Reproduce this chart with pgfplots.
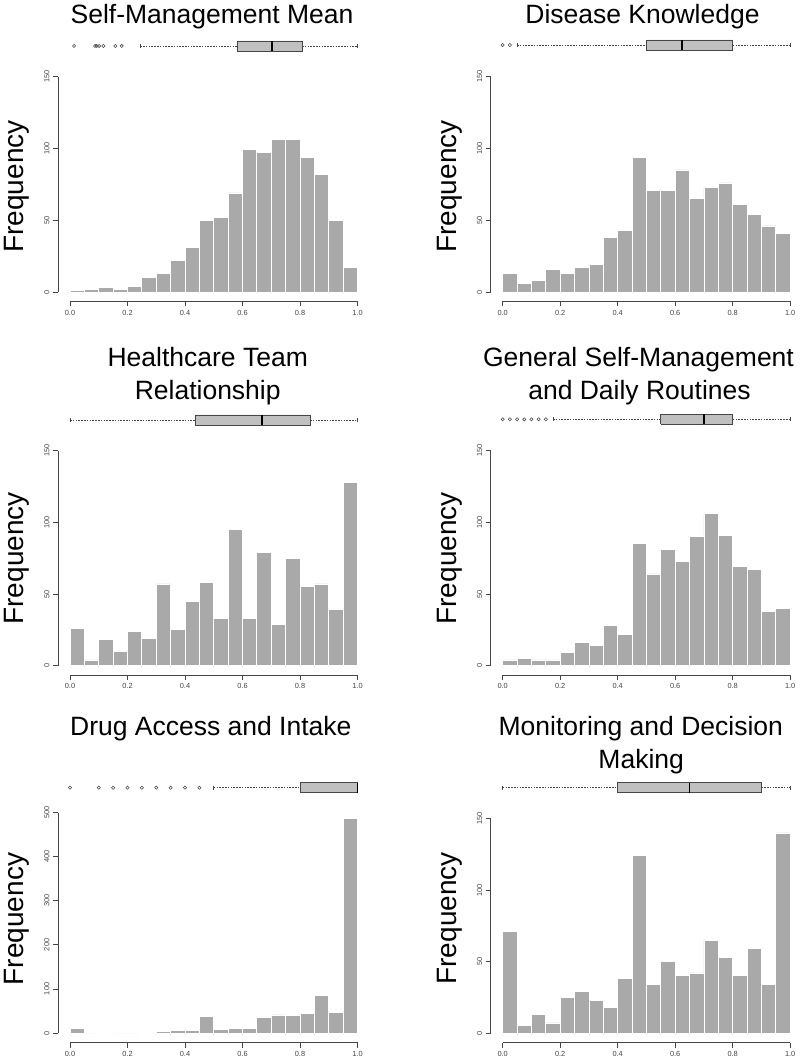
\documentclass[border=0pt]{standalone}
\usepackage{fontspec}
\setmainfont{Liberation Sans}
\usepackage{pgfplots}
\pgfplotsset{compat=1.18}
\definecolor{histgray}{RGB}{169,169,169}
\definecolor{boxgray}{RGB}{192,192,192}
\definecolor{axgray}{RGB}{70,70,70}
\pgfplotsset{
  histax/.style={
    scale only axis, width=287.5pt, xmin=0, xmax=1, ymin=0,
    axis lines*=left, axis line style={-, draw=axgray, line width=0.8pt},
    axis x line shift=9.5pt, axis y line shift=12pt,
    tick align=outside, major tick length=5pt,
    tick style={axgray, line width=0.8pt},
    xtick={0,0.2,0.4,0.6,0.8,1},
    xticklabel style={font=\fontsize{7.4}{8}\selectfont, text=axgray, /pgf/number format/.cd, fixed, fixed zerofill, precision=1},
    yticklabel style={font=\fontsize{7.4}{8}\selectfont, text=axgray, rotate=90, anchor=south},
    /pgf/number format/assume math mode=true,
    clip=false, anchor=south west,
  },
  boxax/.style={scale only axis, width=287.5pt, height=20pt, xmin=0, xmax=1, ymin=-1, ymax=1, hide axis, clip=false, anchor=west},
  hbar/.style={ybar interval, fill=histgray, draw=white, line width=0.8pt},
  whisk/.style={axgray, line width=0.7pt, dash pattern=on 1.6pt off 1.2pt},
  capst/.style={axgray, line width=0.7pt},
  boxs/.style={fill=boxgray, draw=axgray, line width=0.8pt},
  med/.style={black, line width=1.8pt},
  outl/.style={only marks, mark=o, mark size=1.6pt, mark options={axgray, line width=0.55pt}},
}
\newcommand{\ttl}{\fontsize{26.5}{30}\selectfont}
\newcommand{\frq}{\fontsize{28}{30}\selectfont}
\begin{document}
\begin{tikzpicture}
\useasboundingbox (0pt,0pt) rectangle (800pt,1062pt);
\fill[white] (0pt,0pt) rectangle (800pt,1062pt);

% ---------------- Panel 1 ----------------
\node[font=\ttl, anchor=base] at (212pt,1038.7pt) {Self-Management Mean};
\node[font=\frq, rotate=90, anchor=base] at (24pt,875.5pt) {Frequency};
\begin{axis}[boxax, at={(70pt,1016pt)}]
\addplot[whisk] coordinates {(0.244,0) (0.582,0)};
\addplot[whisk] coordinates {(0.807,0) (1,0)};
\addplot[capst] coordinates {(0.244,-0.2) (0.244,0.2)};
\addplot[capst] coordinates {(1,-0.2) (1,0.2)};
\addplot[boxs] coordinates {(0.582,-0.5) (0.807,-0.5) (0.807,0.5) (0.582,0.5) (0.582,-0.5)};
\addplot[med] coordinates {(0.702,-0.5) (0.702,0.5)};
\addplot[outl] coordinates {(0.014,0) (0.087,0) (0.093,0) (0.101,0) (0.116,0) (0.158,0) (0.18,0)};
\end{axis}
\begin{axis}[histax, at={(70pt,770pt)}, height=215.3pt, ymax=150, ytick={0,50,100,150}]
\addplot[hbar] coordinates {(0,1) (0.05,2) (0.1,3) (0.15,2) (0.2,4) (0.25,10) (0.3,13) (0.35,22) (0.4,31) (0.45,50) (0.5,52) (0.55,69) (0.6,99) (0.65,97) (0.7,106) (0.75,106) (0.8,94) (0.85,82) (0.9,50) (0.95,17) (1,17)};
\end{axis}

% ---------------- Panel 2 ----------------
\node[font=\ttl, anchor=base] at (642.5pt,1038.7pt) {Disease Knowledge};
\node[font=\frq, rotate=90, anchor=base] at (456pt,875.5pt) {Frequency};
\begin{axis}[boxax, at={(502.7pt,1017pt)}]
\addplot[whisk] coordinates {(0.05,0) (0.5,0)};
\addplot[whisk] coordinates {(0.8,0) (1,0)};
\addplot[capst] coordinates {(0.05,-0.2) (0.05,0.2)};
\addplot[capst] coordinates {(1,-0.2) (1,0.2)};
\addplot[boxs] coordinates {(0.5,-0.5) (0.8,-0.5) (0.8,0.5) (0.5,0.5) (0.5,-0.5)};
\addplot[med] coordinates {(0.625,-0.5) (0.625,0.5)};
\addplot[outl] coordinates {(0,0) (0.025,0)};
\end{axis}
\begin{axis}[histax, at={(502.7pt,770pt)}, height=215.3pt, ymax=150, ytick={0,50,100,150}]
\addplot[hbar] coordinates {(0,13) (0.05,6) (0.1,8) (0.15,16) (0.2,13) (0.25,17) (0.3,19) (0.35,38) (0.4,43) (0.45,94) (0.5,71) (0.55,71) (0.6,85) (0.65,65) (0.7,73) (0.75,76) (0.8,61) (0.85,54) (0.9,46) (0.95,41) (1,41)};
\end{axis}

% ---------------- Panel 3 ----------------
\node[font=\ttl, anchor=base] at (207.7pt,695.3pt) {Healthcare Team};
\node[font=\ttl, anchor=base] at (207.7pt,662.7pt) {Relationship};
\node[font=\frq, rotate=90, anchor=base] at (24pt,503.7pt) {Frequency};
\begin{axis}[boxax, at={(70pt,642pt)}]
\addplot[whisk] coordinates {(0,0) (0.435,0)};
\addplot[whisk] coordinates {(0.835,0) (1,0)};
\addplot[capst] coordinates {(0,-0.2) (0,0.2)};
\addplot[capst] coordinates {(1,-0.2) (1,0.2)};
\addplot[boxs] coordinates {(0.435,-0.5) (0.835,-0.5) (0.835,0.5) (0.435,0.5) (0.435,-0.5)};
\addplot[med] coordinates {(0.668,-0.5) (0.668,0.5)};
\end{axis}
\begin{axis}[histax, at={(70pt,396.3pt)}, height=215pt, ymax=150, ytick={0,50,100,150}]
\addplot[hbar] coordinates {(0,26) (0.05,4) (0.1,18) (0.15,10) (0.2,24) (0.25,19) (0.3,57) (0.35,25) (0.4,45) (0.45,58) (0.5,33) (0.55,95) (0.6,33) (0.65,79) (0.7,29) (0.75,75) (0.8,55) (0.85,57) (0.9,39) (0.95,128) (1,128)};
\end{axis}

% ---------------- Panel 4 ----------------
\node[font=\ttl, anchor=base] at (638.5pt,695.3pt) {General Self-Management};
\node[font=\ttl, anchor=base] at (639.5pt,662.7pt) {and Daily Routines};
\node[font=\frq, rotate=90, anchor=base] at (456pt,503.7pt) {Frequency};
\begin{axis}[boxax, at={(502.7pt,642.7pt)}]
\addplot[whisk] coordinates {(0.175,0) (0.55,0)};
\addplot[whisk] coordinates {(0.8,0) (1,0)};
\addplot[capst] coordinates {(0.175,-0.2) (0.175,0.2)};
\addplot[capst] coordinates {(1,-0.2) (1,0.2)};
\addplot[boxs] coordinates {(0.55,-0.5) (0.8,-0.5) (0.8,0.5) (0.55,0.5) (0.55,-0.5)};
\addplot[med] coordinates {(0.70,-0.5) (0.70,0.5)};
\addplot[outl] coordinates {(0,0) (0.025,0) (0.05,0) (0.075,0) (0.1,0) (0.125,0) (0.15,0)};
\end{axis}
\begin{axis}[histax, at={(502.7pt,396.3pt)}, height=215pt, ymax=150, ytick={0,50,100,150}]
\addplot[hbar] coordinates {(0,4) (0.05,5) (0.1,4) (0.15,4) (0.2,9) (0.25,16) (0.3,14) (0.35,28) (0.4,22) (0.45,85) (0.5,64) (0.55,81) (0.6,73) (0.65,90) (0.7,106) (0.75,91) (0.8,69) (0.85,67) (0.9,38) (0.95,40) (1,40)};
\end{axis}

% ---------------- Panel 5 ----------------
\node[font=\ttl, anchor=base] at (210.8pt,326pt) {Drug Access and Intake};
\node[font=\frq, rotate=90, anchor=base] at (24pt,143pt) {Frequency};
\begin{axis}[boxax, at={(70pt,274.3pt)}]
\addplot[whisk] coordinates {(0.5,0) (0.8,0)};
\addplot[capst] coordinates {(0.5,-0.2) (0.5,0.2)};
\addplot[boxs] coordinates {(0.8,-0.5) (1,-0.5) (1,0.5) (0.8,0.5) (0.8,-0.5)};
\addplot[med] coordinates {(1,-0.5) (1,0.5)};
\addplot[outl] coordinates {(0,0) (0.1,0) (0.15,0) (0.2,0) (0.25,0) (0.3,0) (0.35,0) (0.4,0) (0.45,0)};
\end{axis}
\begin{axis}[histax, at={(70pt,29pt)}, height=220.3pt, ymax=500, ytick={0,100,200,300,400,500}]
\addplot[hbar] coordinates {(0,10) (0.05,0) (0.1,1) (0.15,0) (0.2,0) (0.25,2) (0.3,4) (0.35,6) (0.4,6) (0.45,38) (0.5,9) (0.55,11) (0.6,10) (0.65,35) (0.7,41) (0.75,39) (0.8,44) (0.85,86) (0.9,47) (0.95,486) (1,486)};
\end{axis}

% ---------------- Panel 6 ----------------
\node[font=\ttl, anchor=base] at (640.8pt,326pt) {Monitoring and Decision};
\node[font=\ttl, anchor=base] at (641.2pt,293.7pt) {Making};
\node[font=\frq, rotate=90, anchor=base] at (456pt,143.7pt) {Frequency};
\begin{axis}[boxax, at={(502.7pt,274.3pt)}]
\addplot[whisk] coordinates {(0,0) (0.4,0)};
\addplot[whisk] coordinates {(0.9,0) (1,0)};
\addplot[capst] coordinates {(0,-0.2) (0,0.2)};
\addplot[capst] coordinates {(1,-0.2) (1,0.2)};
\addplot[boxs] coordinates {(0.4,-0.5) (0.9,-0.5) (0.9,0.5) (0.4,0.5) (0.4,-0.5)};
\addplot[med] coordinates {(0.65,-0.5) (0.65,0.5)};
\end{axis}
\begin{axis}[histax, at={(502.7pt,29pt)}, height=214.3pt, ymax=150, ytick={0,50,100,150}]
\addplot[hbar] coordinates {(0,71) (0.05,5) (0.1,13) (0.15,7) (0.2,25) (0.25,29) (0.3,23) (0.35,18) (0.4,38) (0.45,124) (0.5,34) (0.55,50) (0.6,40) (0.65,42) (0.7,65) (0.75,53) (0.8,40) (0.85,59) (0.9,34) (0.95,140) (1,140)};
\end{axis}
\end{tikzpicture}
\end{document}
